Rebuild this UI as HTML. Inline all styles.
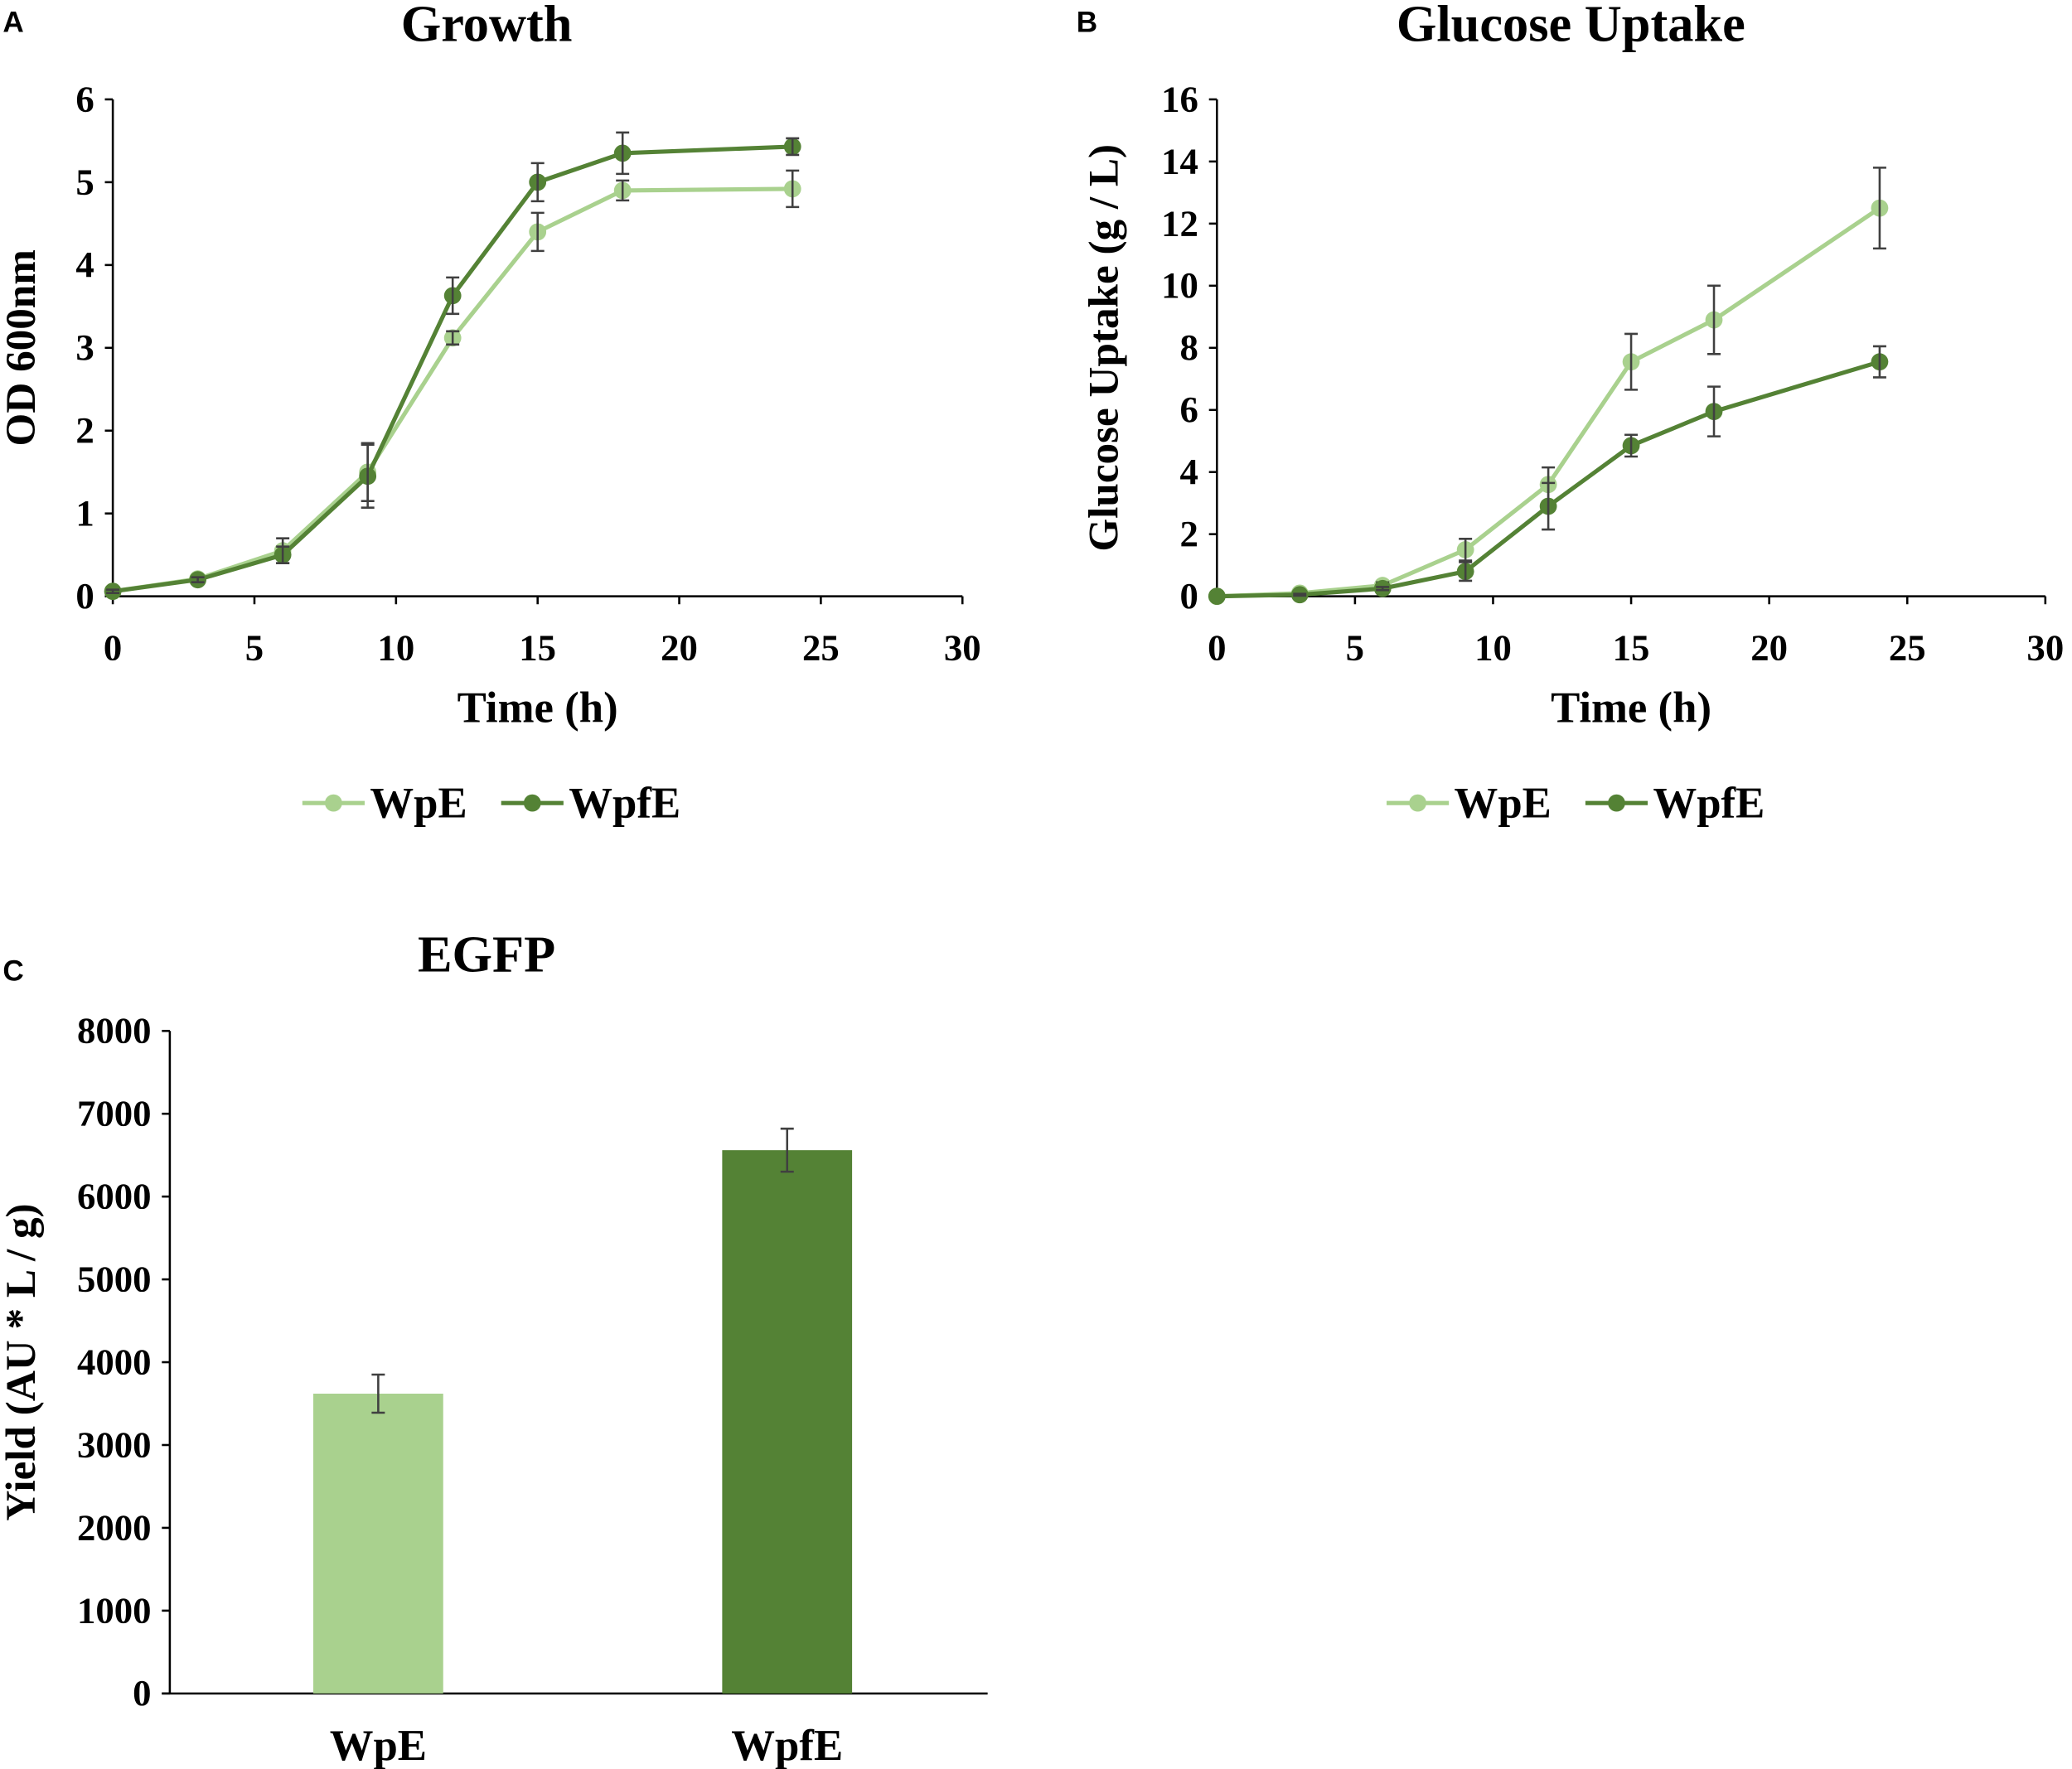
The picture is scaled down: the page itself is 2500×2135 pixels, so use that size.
<!DOCTYPE html>
<html><head><meta charset="utf-8"><style>
html,body{margin:0;padding:0;background:#fff;}
svg{display:block;}
text{font-family:"Liberation Serif",serif;font-weight:bold;fill:#000;}
.pl{font-family:"Liberation Sans",sans-serif;}
</style></head><body>
<svg id="fig" width="2500" height="2135" viewBox="0 0 1563 1335" xmlns="http://www.w3.org/2000/svg"></svg>
<script>
const timesH = [0,3,6,9,12,15,18,24];
const growthWpE = [0.06,0.21,0.55,1.5,3.12,4.4,4.9,4.92];
const growthWpEErr = [0.02,0.03,0.15,0.35,0.08,0.23,0.12,0.22];
const growthWpfE = [0.06,0.2,0.5,1.45,3.63,5.0,5.35,5.43];
const growthWpfEErr = [0.02,0.03,0.1,0.38,0.22,0.23,0.25,0.1];
const glucWpE = [0,0.1,0.35,1.5,3.6,7.55,8.9,12.5];
const glucWpEErr = [0,0.05,0.1,0.35,0.55,0.9,1.1,1.3];
const glucWpfE = [0,0.05,0.25,0.8,2.9,4.85,5.95,7.55];
const glucWpfEErr = [0,0.03,0.05,0.3,0.75,0.35,0.8,0.5];
const xTicks = [0,5,10,15,20,25,30];
const growthYTicks = [0,1,2,3,4,5,6];
const glucYTicks = [0,2,4,6,8,10,12,14,16];
const barCategories = ['WpE','WpfE'];
const barValues = [3620,6560];
const barErr = [230,260];
const barYTicks = [0,1000,2000,3000,4000,5000,6000,7000,8000];

const LIGHT='#a9d18e', DARK='#548235', ERR='#404040';
const svg=document.getElementById('fig');
const NS='http://www.w3.org/2000/svg';
function mk(tag,attrs,parent,txt){const e=document.createElementNS(NS,tag);for(const k in attrs)e.setAttribute(k,attrs[k]);if(txt!==undefined)e.textContent=txt;(parent||svg).appendChild(e);return e;}

function panel(cfg){
  const g=mk('g',{});
  
  
  const sx=v=>cfg.x0+(v-cfg.xmin)/(cfg.xmax-cfg.xmin)*(cfg.x1-cfg.x0);
  const sy=v=>cfg.y0-(v-cfg.ymin)/(cfg.ymax-cfg.ymin)*(cfg.y0-cfg.y1);
  const ya=mk('line',{x1:cfg.x0,y1:cfg.y1,x2:cfg.x0,y2:cfg.y0,stroke:'#000','stroke-width':1.6},g);
  
  const xa=mk('line',{x1:cfg.x0-6,y1:cfg.y0,x2:cfg.x1,y2:cfg.y0,stroke:'#000','stroke-width':1.6},g);
  
  cfg.yTicks.forEach(t=>{
    mk('line',{x1:cfg.x0-6,y1:sy(t),x2:cfg.x0,y2:sy(t),stroke:'#000','stroke-width':1.6},g);
    const l=mk('text',{x:cfg.x0-14,y:sy(t)+9,'text-anchor':'end','font-size':28},g,String(t));
    
  });
  if(cfg.xTicks){cfg.xTicks.forEach(t=>{
    mk('line',{x1:sx(t),y1:cfg.y0,x2:sx(t),y2:cfg.y0+6,stroke:'#000','stroke-width':1.6},g);
    const l=mk('text',{x:sx(t),y:cfg.y0+48,'text-anchor':'middle','font-size':28},g,String(t));
    
  });}
  const tt=mk('text',{x:cfg.titleX,y:cfg.titleY,'text-anchor':'middle','font-size':39},g,cfg.title);
  
  const pl=mk('text',{x:cfg.letterX,y:cfg.letterY,'font-size':22,class:'pl'},g,cfg.letter);
  
  const yt=mk('text',{x:0,y:0,'text-anchor':'middle','font-size':32,transform:`translate(${cfg.ytX},${(cfg.y0+cfg.y1)/2}) rotate(-90)`},g,cfg.yTitle);
  
  if(cfg.xTitle){const xt=mk('text',{x:(cfg.x0+cfg.x1)/2,y:cfg.y0+95,'text-anchor':'middle','font-size':33},g,cfg.xTitle);
    }
  return {g,sx,sy};
}

function errBar(g,x,yv,e,sy,cap){
  if(e<=0)return;
  const p=mk('path',{d:`M${x},${sy(yv-e)}V${sy(yv+e)}M${x-cap},${sy(yv-e)}H${x+cap}M${x-cap},${sy(yv+e)}H${x+cap}`,stroke:ERR,'stroke-width':1.6,fill:'none'},g);
  
}
function series(p,xs,ys,es,color,name){
  const sg=mk('g',{},p.g);
  
  const pts=xs.map((x,i)=>p.sx(x)+','+p.sy(ys[i])).join(' ');
  mk('polyline',{points:pts,fill:'none',stroke:color,'stroke-width':3.2},sg);
  xs.forEach((x,i)=>{
    const c=mk('circle',{cx:p.sx(x),cy:p.sy(ys[i]),r:6.5,fill:color},sg);
    
  });
  xs.forEach((x,i)=>errBar(sg,p.sx(x),ys[i],es[i],p.sy,5));
}
function legend(x,y){
  const lg=mk('g',{});
  
  [[LIGHT,'WpE',0],[DARK,'WpfE',150]].forEach(([c,t,dx])=>{
    const e=mk('g',{},lg);
    
    mk('line',{x1:x+dx,y1:y,x2:x+dx+47,y2:y,stroke:c,'stroke-width':3.2},e);
    mk('circle',{cx:x+dx+23.5,cy:y,r:6.5,fill:c},e);
    mk('text',{x:x+dx+51,y:y+11,'font-size':33},e,t);
  });
}

const A=panel({name:'growth-chart',x0:85,x1:726,y0:450,y1:75,xmin:0,xmax:30,ymin:0,ymax:6,yTicks:growthYTicks,xTicks:xTicks,
  title:'Growth',titleX:367,titleY:31,letter:'A',letterX:2,letterY:24,yTitle:'OD 600nm',ytX:26,xTitle:'Time (h)'});
series(A,timesH,growthWpE,growthWpEErr,LIGHT,'series-wpe');
series(A,timesH,growthWpfE,growthWpfEErr,DARK,'series-wpfe');
legend(228,606);

const B=panel({name:'glucose-uptake-chart',x0:918,x1:1543,y0:450,y1:75,xmin:0,xmax:30,ymin:0,ymax:16,yTicks:glucYTicks,xTicks:xTicks,
  title:'Glucose Uptake',titleX:1185,titleY:31,letter:'B',letterX:812,letterY:24,yTitle:'Glucose Uptake (g / L)',ytX:843,xTitle:'Time (h)'});
series(B,timesH,glucWpE,glucWpEErr,LIGHT,'series-wpe');
series(B,timesH,glucWpfE,glucWpfEErr,DARK,'series-wpfe');
legend(1046,606);

const C=panel({name:'egfp-bar-chart',x0:128,x1:745,y0:1278,y1:778,xmin:0,xmax:1,ymin:0,ymax:8000,yTicks:barYTicks,
  title:'EGFP',titleX:367,titleY:733,letter:'C',letterX:2,letterY:740,yTitle:'Yield (AU * L / g)',ytX:26});
const barColors=[LIGHT,DARK];
const slotW=(745-128)/barCategories.length, bw=98;
barCategories.forEach((cat,i)=>{
  const cx=128+slotW*(i+0.5)+3;
  const r=mk('rect',{x:cx-bw/2,y:C.sy(barValues[i]),width:bw,height:C.sy(0)-C.sy(barValues[i]),fill:barColors[i]},C.g);
  
  errBar(C.g,cx,barValues[i],barErr[i],C.sy,5);
  const l=mk('text',{x:cx,y:1328,'text-anchor':'middle','font-size':33},C.g,cat);
  
});
</script>
</body></html>
